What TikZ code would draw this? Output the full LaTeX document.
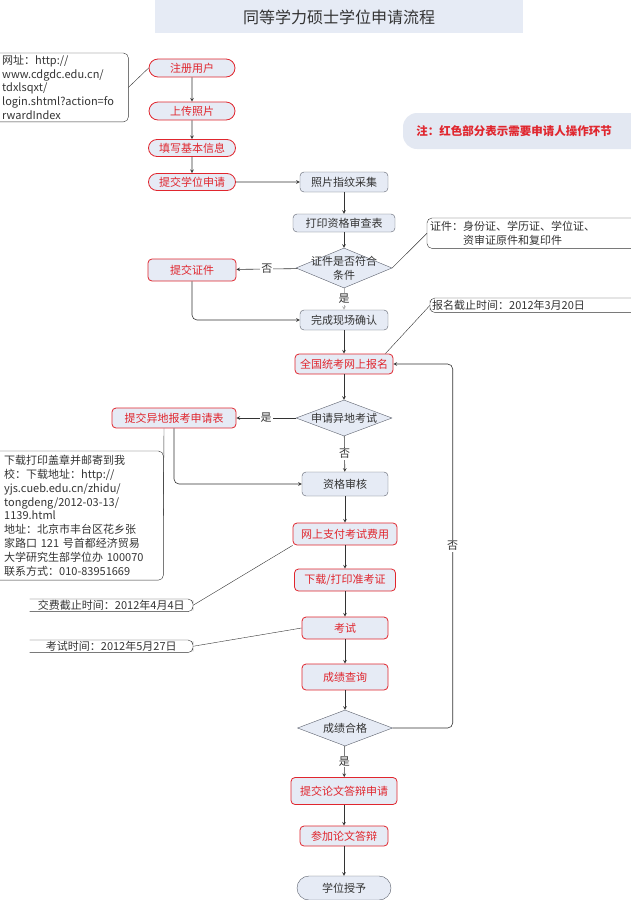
\documentclass[tikz,border=0pt]{standalone}
\usepackage{fontspec}
\setmainfont{Noto Sans CJK SC}
\usetikzlibrary{shapes.geometric,shapes.misc}
\definecolor{boxfill}{HTML}{E6EBF5}
\definecolor{notefill}{HTML}{E3E8F2}
\definecolor{actred}{HTML}{E0262E}
\definecolor{edgegray}{HTML}{5A5F6B}
\definecolor{textgray}{HTML}{333333}
\begin{document}
\begin{tikzpicture}[x=1pt,y=-1pt,>=stealth,
  every node/.style={font=\fontsize{11}{13.8}\selectfont},
  redpill/.style={rounded rectangle,draw=actred,thick,fill=boxfill,text=actred,minimum width=88pt,minimum height=18pt,inner sep=1pt},
  redbox/.style={rectangle,rounded corners=4pt,draw=actred,thick,fill=boxfill,text=actred,minimum width=88pt,minimum height=20pt,inner sep=1pt},
  graybox/.style={rectangle,rounded corners=4pt,draw=edgegray,fill=boxfill,text=textgray,minimum width=88pt,minimum height=20pt,inner sep=1pt},
  decision/.style={diamond,draw=edgegray,fill=boxfill,minimum width=96pt,minimum height=38pt,inner sep=0pt},
  note/.style={align=left,inner sep=3pt,text=textgray,font=\fontsize{11}{13.8}\selectfont},
  notebrk/.style={draw=black!80,rounded corners=5pt},
  flow/.style={draw=black!80,line width=0.6pt,->},
  yesno/.style={fill=white,inner sep=1pt,text=textgray}]
 \useasboundingbox (0,0) rectangle (630,900);
 % title
 \fill[boxfill] (155,0) rectangle (523,33);
 \node[font=\fontsize{16}{18}\selectfont,text=textgray] (title) at (339,17) {同等学力硕士学位申请流程};
 \fill[notefill,rounded corners=14pt] (403,113) rectangle (660,149);
 \node[text=actred,font=\fontsize{11.5}{13}\selectfont\bfseries] (legend) at (514,131) {注：红色部分表示需要申请人操作环节};

 % main steps
 \node[redpill] (reg) at (192,68) {注册用户};
 \node[redpill,minimum height=18pt] (upload) at (192,111) {上传照片};
 \node[redpill,minimum height=17pt,minimum width=89pt] (info) at (192,148) {填写基本信息};
 \node[redpill,minimum height=17pt,minimum width=89pt] (apply) at (192,182) {提交学位申请};
 \node[graybox] (photo) at (344,182) {照片指纹采集};
 \node[graybox,minimum width=102pt,minimum height=18pt] (print) at (344,223) {打印资格审查表};
 \node[decision,minimum height=40pt] (docok) at (344,268) {};
 \node[align=center,text=textgray] at (docok) {证件是否符合\\条件};
 \node[redbox,minimum height=22pt] (cert) at (192,270) {提交证件};
 \node[graybox] (confirm) at (344,320) {完成现场确认};
 \node[redbox,minimum width=98pt] (signup) at (344,364) {全国统考网上报名};
 \node[decision,minimum height=36pt] (remote) at (344,418) {};
 \node[text=textgray] at (remote) {申请异地考试};
 \node[redbox,minimum width=124pt] (remoteform) at (174,418) {提交异地报考申请表};
 \node[graybox,minimum width=86pt,minimum height=24pt] (check) at (345,484) {资格审核};
 \node[redbox,minimum width=104pt,minimum height=22pt] (pay) at (345,534) {网上支付考试费用};
 \node[redbox,minimum width=101pt,minimum height=22pt] (ticket) at (345,580) {下载/打印准考证};
 \node[redbox,minimum width=86pt,minimum height=22pt] (exam) at (345,628) {考试};
 \node[redbox,minimum width=86pt,minimum height=26pt] (score) at (345,677) {成绩查询};
 \node[decision,minimum width=95pt,minimum height=36pt] (pass) at (345,728) {};
 \node[text=textgray] at (pass) {成绩合格};
 \node[redbox,minimum width=106pt,minimum height=27pt] (thesis) at (344,791) {提交论文答辩申请};
 \node[redbox,minimum height=20pt] (defend) at (344,836) {参加论文答辩};
 \node[rounded rectangle,draw=edgegray,fill=boxfill,text=textgray,minimum width=96pt,minimum height=24pt,inner sep=1pt] (degree) at (344,888) {学位授予};

 % notes
 \node[note,anchor=north west,text width=124pt,inner sep=2pt] (urlnote) at (0,53)
   {网址：http://\\www.cdgdc.edu.cn/\\tdxlsqxt/\\login.shtml?action=fo\\rwardIndex};
 \draw[notebrk] (urlnote.north west) -| (urlnote.east) |- (urlnote.south west);
 \node[note,anchor=north west,text width=204pt] (certnote) at (427,218)
   {证件：身份证、学历证、学位证、\\\hspace*{3em}资审证原件和复印件};
 \draw[notebrk] (certnote.north east) -| (certnote.west) |- (certnote.south east);
 \node[note,anchor=north west,text width=204pt,inner sep=2pt] (datenote) at (430,298)
   {报名截止时间：2012年3月20日};
 \draw[notebrk] (datenote.north east) -| (datenote.west) |- (datenote.south east);
 \node[note,anchor=north west,text width=155pt,inner sep=4pt] (mailnote) at (0,451)
   {下载打印盖章并邮寄到我\\校：下载地址：http://\\yjs.cueb.edu.cn/zhidu/\\tongdeng/2012-03-13/\\1139.html\\地址：北京市丰台区花乡张\\家路口 121 号首都经济贸易\\大学研究生部学位办 100070\\联系方式：010-83951669};
 \draw[notebrk] (mailnote.north west) -| (mailnote.east) |- (mailnote.south west);
 \node[note,anchor=north east,minimum width=163pt,inner sep=1pt,align=center] (feenote) at (193,599)
   {交费截止时间：2012年4月4日};
 \draw[notebrk] (feenote.north west) -| (feenote.east) |- (feenote.south west);
 \node[note,anchor=north east,minimum width=163pt,inner sep=1pt,align=center] (timenote) at (193,640)
   {考试时间：2012年5月27日};
 \draw[notebrk] (timenote.north west) -| (timenote.east) |- (timenote.south west);

 % note links
 \draw[black!80] (urlnote.east) -- (reg.west);
 \draw[black!80] (certnote.west) -- (docok.east);
 \draw[black!80] (datenote.west) -- ([xshift=-8pt]signup.north east);
 \draw[black!80] ([xshift=-10pt]remoteform.south) -- (mailnote.east);
 \draw[black!80] (feenote.east) -- (pay.south west);
 \draw[black!80] (timenote.east) -- (exam.west);

 % flow
 \draw[flow] (reg) -- (upload);
 \draw[flow] (upload) -- (info);
 \draw[flow] (info) -- (apply);
 \draw[flow] (apply) -- (photo);
 \draw[flow] (photo) -- (print);
 \draw[flow] (print) -- (docok);
 \draw[flow] (docok) -- node[yesno] {否} (cert);
 \draw[flow,draw=gray!60] (docok) -- node[yesno] {是} (confirm);
 \draw[flow,rounded corners=5pt] (cert) |- (confirm);
 \draw[flow] (confirm) -- (signup);
 \draw[flow] (signup) -- (remote);
 \draw[flow] (remote) -- node[yesno] {是} (remoteform);
 \draw[flow] (remote) -- node[yesno] {否} (check);
 \draw[flow,rounded corners=5pt] (remoteform) |- (check);
 \draw[flow] (check) -- (pay);
 \draw[flow] (pay) -- (ticket);
 \draw[flow] (ticket) -- (exam);
 \draw[flow] (exam) -- (score);
 \draw[flow] (score) -- (pass);
 \draw[flow] (pass) -- node[yesno] {是} (thesis);
 \draw[flow] (thesis) -- (defend);
 \draw[flow] (defend) -- (degree);
 \draw[flow,rounded corners=5pt] (pass.east) -- ++(60,0) |- node[yesno,pos=0.25] {否} (signup.east);
\end{tikzpicture}
\end{document}
